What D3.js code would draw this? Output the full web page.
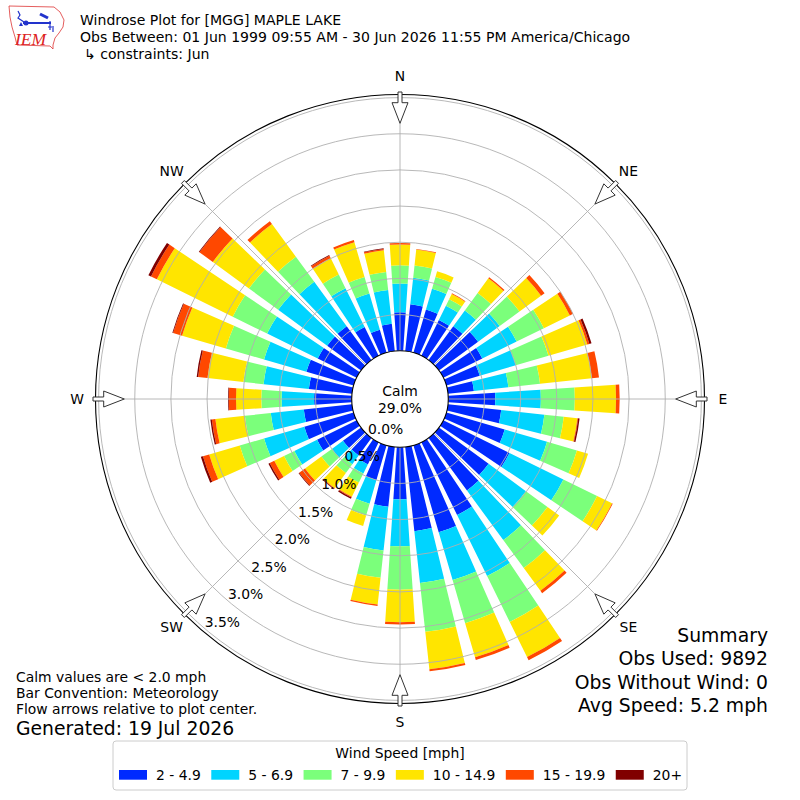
<!DOCTYPE html>
<html>
<head>
<meta charset="utf-8">
<script src="https://cdn.jsdelivr.net/npm/d3@7"></script>
<style>
  body { margin: 0; background: #fff; }
  svg  { font-family: "DejaVu Sans", sans-serif; }
</style>
</head>
<body>
<div class="playground"></div>
<script>
// direction each bar comes from, degrees
var directions = [0, 10, 20, 30, 40, 50, 60, 70, 80, 90, 100, 110,
                  120, 130, 140, 150, 160, 170, 180, 190, 200, 210, 220, 230,
                  240, 250, 260, 270, 280, 290, 300, 310, 320, 330, 340, 350];

var speedBins = ["2 - 4.9", "5 - 6.9", "7 - 9.9", "10 - 14.9", "15 - 19.9", "20+"];
var binColors = ["#002aff", "#00d4ff", "#7bff7b", "#ffe500", "#ff4800", "#800000"];

// percent of obs in each speed bin, per direction
var pct2to5   = [0.53, 0.65, 0.62, 0.55, 0.58, 0.67, 0.60, 0.48, 0.36, 0.65, 0.74, 0.84,
                 1.02, 0.85, 0.90, 1.12, 1.25, 1.17, 0.72, 0.83, 0.50, 0.34, 0.30, 0.31,
                 0.61, 0.71, 0.67, 0.52, 0.60, 0.68, 0.60, 0.58, 0.58, 0.44, 0.33, 0.38];
var pct5to7   = [0.40, 0.37, 0.30, 0.22, 0.27, 0.37, 0.53, 0.52, 0.48, 0.63, 0.60, 0.61,
                 0.83, 0.64, 0.85, 0.94, 0.69, 0.72, 0.65, 0.61, 0.34, 0.14, 0.15, 0.19,
                 0.35, 0.58, 0.46, 0.45, 0.63, 0.61, 0.78, 0.84, 0.76, 0.60, 0.52, 0.47];
var pct7to10  = [0.25, 0.17, 0.17, 0.10, 0.30, 0.34, 0.42, 0.47, 0.44, 0.47, 0.27, 0.43,
                 0.52, 0.37, 0.48, 0.71, 0.62, 0.68, 0.60, 0.38, 0.17, 0.14, 0.15, 0.18,
                 0.16, 0.35, 0.36, 0.28, 0.28, 0.55, 0.53, 0.50, 0.43, 0.21, 0.24, 0.25];
var pct10to15 = [0.29, 0.22, 0.08, 0.08, 0.25, 0.37, 0.40, 0.56, 0.72, 0.57, 0.19, 0.16,
                 0.23, 0.20, 0.39, 0.54, 0.49, 0.52, 0.45, 0.37, 0.15, 0.22, 0.26, 0.28,
                 0.15, 0.44, 0.41, 0.35, 0.50, 0.63, 1.17, 0.62, 0.56, 0.25, 0.50, 0.30];
var pct15to20 = [0.02, 0.01, 0.00, 0.01, 0.02, 0.06, 0.05, 0.03, 0.10, 0.05, 0.01, 0.00,
                 0.01, 0.00, 0.04, 0.05, 0.04, 0.03, 0.03, 0.02, 0.00, 0.01, 0.01, 0.10,
                 0.07, 0.09, 0.05, 0.10, 0.13, 0.13, 0.09, 0.23, 0.05, 0.04, 0.03, 0.02];
var pct20plus = [0.00, 0.00, 0.00, 0.00, 0.00, 0.00, 0.00, 0.03, 0.00, 0.00, 0.02, 0.00,
                 0.00, 0.00, 0.00, 0.00, 0.00, 0.00, 0.00, 0.00, 0.00, 0.02, 0.01, 0.01,
                 0.02, 0.03, 0.02, 0.01, 0.02, 0.01, 0.04, 0.01, 0.00, 0.01, 0.00, 0.01];

var radialTicks   = [0, 0.5, 1.0, 1.5, 2.0, 2.5, 3.0, 3.5];
var compassLabels = ["N", "NE", "E", "SE", "S", "SW", "W", "NW"];
var compassAngles = [0, 45, 90, 135, 180, 225, 270, 315];
var calmPct = 29.0;

var titleLines   = ["Windrose Plot for [MGG] MAPLE LAKE",
                    "Obs Between: 01 Jun 1999 09:55 AM - 30 Jun 2026 11:55 PM America/Chicago",
                    "\u21b3 constraints: Jun"];
var noteLines    = ["Calm values are < 2.0 mph", "Bar Convention: Meteorology",
                    "Flow arrows relative to plot center."];
var generated    = "Generated: 19 Jul 2026";
var summaryLines = ["Summary", "Obs Used: 9892", "Obs Without Wind: 0", "Avg Speed: 5.2 mph"];


var width  = 800,
    height = 800,
    cx     = 400,
    cy     = 399,
    calmR  = 48.3,
    outerR = 304.5,
    halfW  = 3.8;   // half bar opening, degrees

var rad = function (deg) { return deg * Math.PI / 180; };

var r = d3.scaleLinear().domain([0, 3.5]).range([calmR, 301.4]);

var svg = d3.select(".playground")
            .append("svg")
            .attr("width", width)
            .attr("height", height);

svg.append("rect").attr("width", width).attr("height", height).attr("fill", "#fff");

var keys = ["b0", "b1", "b2", "b3", "b4", "b5"];
var series = [pct2to5, pct5to7, pct7to10, pct10to15, pct15to20, pct20plus];
var rows = directions.map(function (d, i) {
  var row = { dir: d };
  keys.forEach(function (k, j) { row[k] = series[j][i]; });
  return row;
});

var stacked = d3.stack().keys(keys)(rows);

var arc = d3.arc()
            .innerRadius(function (d) { return r(d[0]); })
            .outerRadius(function (d) { return r(d[1]); })
            .startAngle(function (d) { return rad(d.data.dir - halfW); })
            .endAngle(function (d) { return rad(d.data.dir + halfW); });

var plot = svg.append("g").attr("transform", "translate(" + cx + "," + cy + ")");

plot.selectAll("g.layer")
    .data(stacked)
    .enter()
    .append("g")
    .attr("class", "layer")
    .attr("fill", function (d, i) { return binColors[i]; })
    .selectAll("path")
    .data(function (d) { return d.filter(function (s) { return s[1] - s[0] > 0; }); })
    .enter()
    .append("path")
    .attr("d", arc);

// grid on top of the bars
plot.selectAll("circle.ring")
    .data(radialTicks.slice(1))
    .enter()
    .append("circle")
    .attr("r", function (d) { return r(d); })
    .attr("fill", "none")
    .attr("stroke", "#b0b0b0")
    .attr("stroke-width", 0.9);

plot.selectAll("line.spoke")
    .data(compassAngles)
    .enter()
    .append("line")
    .attr("x1", function (d) { return calmR * Math.sin(rad(d)); })
    .attr("y1", function (d) { return -calmR * Math.cos(rad(d)); })
    .attr("x2", function (d) { return outerR * Math.sin(rad(d)); })
    .attr("y2", function (d) { return -outerR * Math.cos(rad(d)); })
    .attr("stroke", "#b0b0b0")
    .attr("stroke-width", 0.9);

plot.append("circle")
    .attr("r", outerR)
    .attr("fill", "none")
    .attr("stroke", "#000")
    .attr("stroke-width", 1.1);

plot.append("circle")
    .attr("r", calmR)
    .attr("fill", "#fff")
    .attr("stroke", "#000")
    .attr("stroke-width", 1.1);

plot.append("text").attr("x", 0).attr("y", -3).attr("text-anchor", "middle")
    .attr("font-size", "13.9px").text("Calm");
plot.append("text").attr("x", 0).attr("y", 13.5).attr("text-anchor", "middle")
    .attr("font-size", "13.9px").text(calmPct.toFixed(1) + "%");

// flow arrows pointing at the centre
var arrowPts = [[-2, 307], [2, 307], [2, 296.3], [8, 296.3], [0, 275.7], [-8, 296.3], [-2, 296.3]];

plot.selectAll("path.arrow")
    .data(compassAngles)
    .enter()
    .append("path")
    .attr("d", function (a) {
      var s = Math.sin(rad(a)), c = Math.cos(rad(a));
      return "M" + arrowPts.map(function (p) {
        return [p[1] * s + p[0] * c, -p[1] * c + p[0] * s].join(",");
      }).join("L") + "Z";
    })
    .attr("fill", "#fff")
    .attr("stroke", "#333")
    .attr("stroke-width", 1);

plot.selectAll("text.compass")
    .data(compassLabels)
    .enter()
    .append("text")
    .attr("x", function (d, i) { return 323 * Math.sin(rad(compassAngles[i])); })
    .attr("y", function (d, i) { return -323 * Math.cos(rad(compassAngles[i])); })
    .attr("dy", "0.36em")
    .attr("text-anchor", "middle")
    .attr("font-size", "13.9px")
    .text(function (d) { return d; });

// percent labels along the SW side
svg.selectAll("text.rlabel")
   .data(radialTicks)
   .enter()
   .append("text")
   .attr("x", function (d) { return 409 - 0.645 * (r(d) - 12); })
   .attr("y", function (d) { return 401 + 0.764 * (r(d) - 12); })
   .attr("dy", "0.36em")
   .attr("text-anchor", "middle")
   .attr("font-size", "13.9px")
   .text(function (d) { return d.toFixed(1) + "%"; });

// header
svg.selectAll("text.title")
   .data(titleLines)
   .enter()
   .append("text")
   .attr("x", function (d, i) { return i == 2 ? 84 : 80; })
   .attr("y", function (d, i) { return 25 + i * 17; })
   .attr("font-size", "14.05px")
   .text(function (d) { return d; });

// IEM logo, roughly
var logo = svg.append("g");
logo.append("path")
    .attr("d", "M9,6 L54,7 L60,12 L64,20 L63,27 L59,33 L55,38 L53,45 L53,49 L50,46 L17,45 L15,37 L12,27 L10,17 Z")
    .attr("fill", "none").attr("stroke", "#dd3333").attr("stroke-width", 0.8);
logo.append("line").attr("x1", 23).attr("y1", 23).attr("x2", 51).attr("y2", 23)
    .attr("stroke", "#2233cc").attr("stroke-width", 2);
logo.append("circle").attr("cx", 26).attr("cy", 23).attr("r", 2.5).attr("fill", "#2233cc");
logo.append("path").attr("d", "M18,11 L20,15 L18,18 L24,22").attr("fill", "none")
    .attr("stroke", "#2233cc").attr("stroke-width", 1.2);
logo.append("path").attr("d", "M19,26 L21,22 L23,26 Z").attr("fill", "#2233cc");
logo.append("path").attr("d", "M40,14 L48,18").attr("stroke", "#2233cc").attr("stroke-width", 3);
logo.append("path").attr("d", "M50,21 L50,30 M48,27 L52,27 M53,26 L53,32").attr("stroke", "#2233cc")
    .attr("stroke-width", 1.2).attr("fill", "none");
logo.append("text").attr("x", 15).attr("y", 45)
    .attr("font-family", "Liberation Serif, serif").attr("font-style", "italic")
    .attr("font-size", "17.5px").attr("fill", "#dd2222").text("IEM");

// notes bottom left
svg.selectAll("text.note")
   .data(noteLines)
   .enter()
   .append("text")
   .attr("x", 16)
   .attr("y", function (d, i) { return 682 + i * 16; })
   .attr("font-size", "13.9px")
   .text(function (d) { return d; });

svg.append("text").attr("x", 16).attr("y", 735).attr("font-size", "18.8px").text(generated);

// summary bottom right
svg.selectAll("text.summary")
   .data(summaryLines)
   .enter()
   .append("text")
   .attr("x", 768)
   .attr("y", function (d, i) { return 642 + i * 23.3; })
   .attr("text-anchor", "end")
   .attr("font-size", "18.8px")
   .text(function (d) { return d; });

// legend
var legend = svg.append("g");
legend.append("rect")
      .attr("x", 113).attr("y", 741).attr("width", 574).attr("height", 49)
      .attr("rx", 3).attr("fill", "#fff").attr("stroke", "#cccccc");
legend.append("text").attr("x", 400).attr("y", 758).attr("text-anchor", "middle")
      .attr("font-size", "13.9px").text("Wind Speed [mph]");

var lx = 119;
speedBins.forEach(function (label, i) {
  legend.append("rect").attr("x", lx).attr("y", 770).attr("width", 28).attr("height", 9.7)
        .attr("fill", binColors[i]);
  var t = legend.append("text").attr("x", lx + 37).attr("y", 780)
                .attr("font-size", "13.9px").text(label);
  lx = lx + 37 + t.node().getComputedTextLength() + 10.5;
});
</script>
</body>
</html>
